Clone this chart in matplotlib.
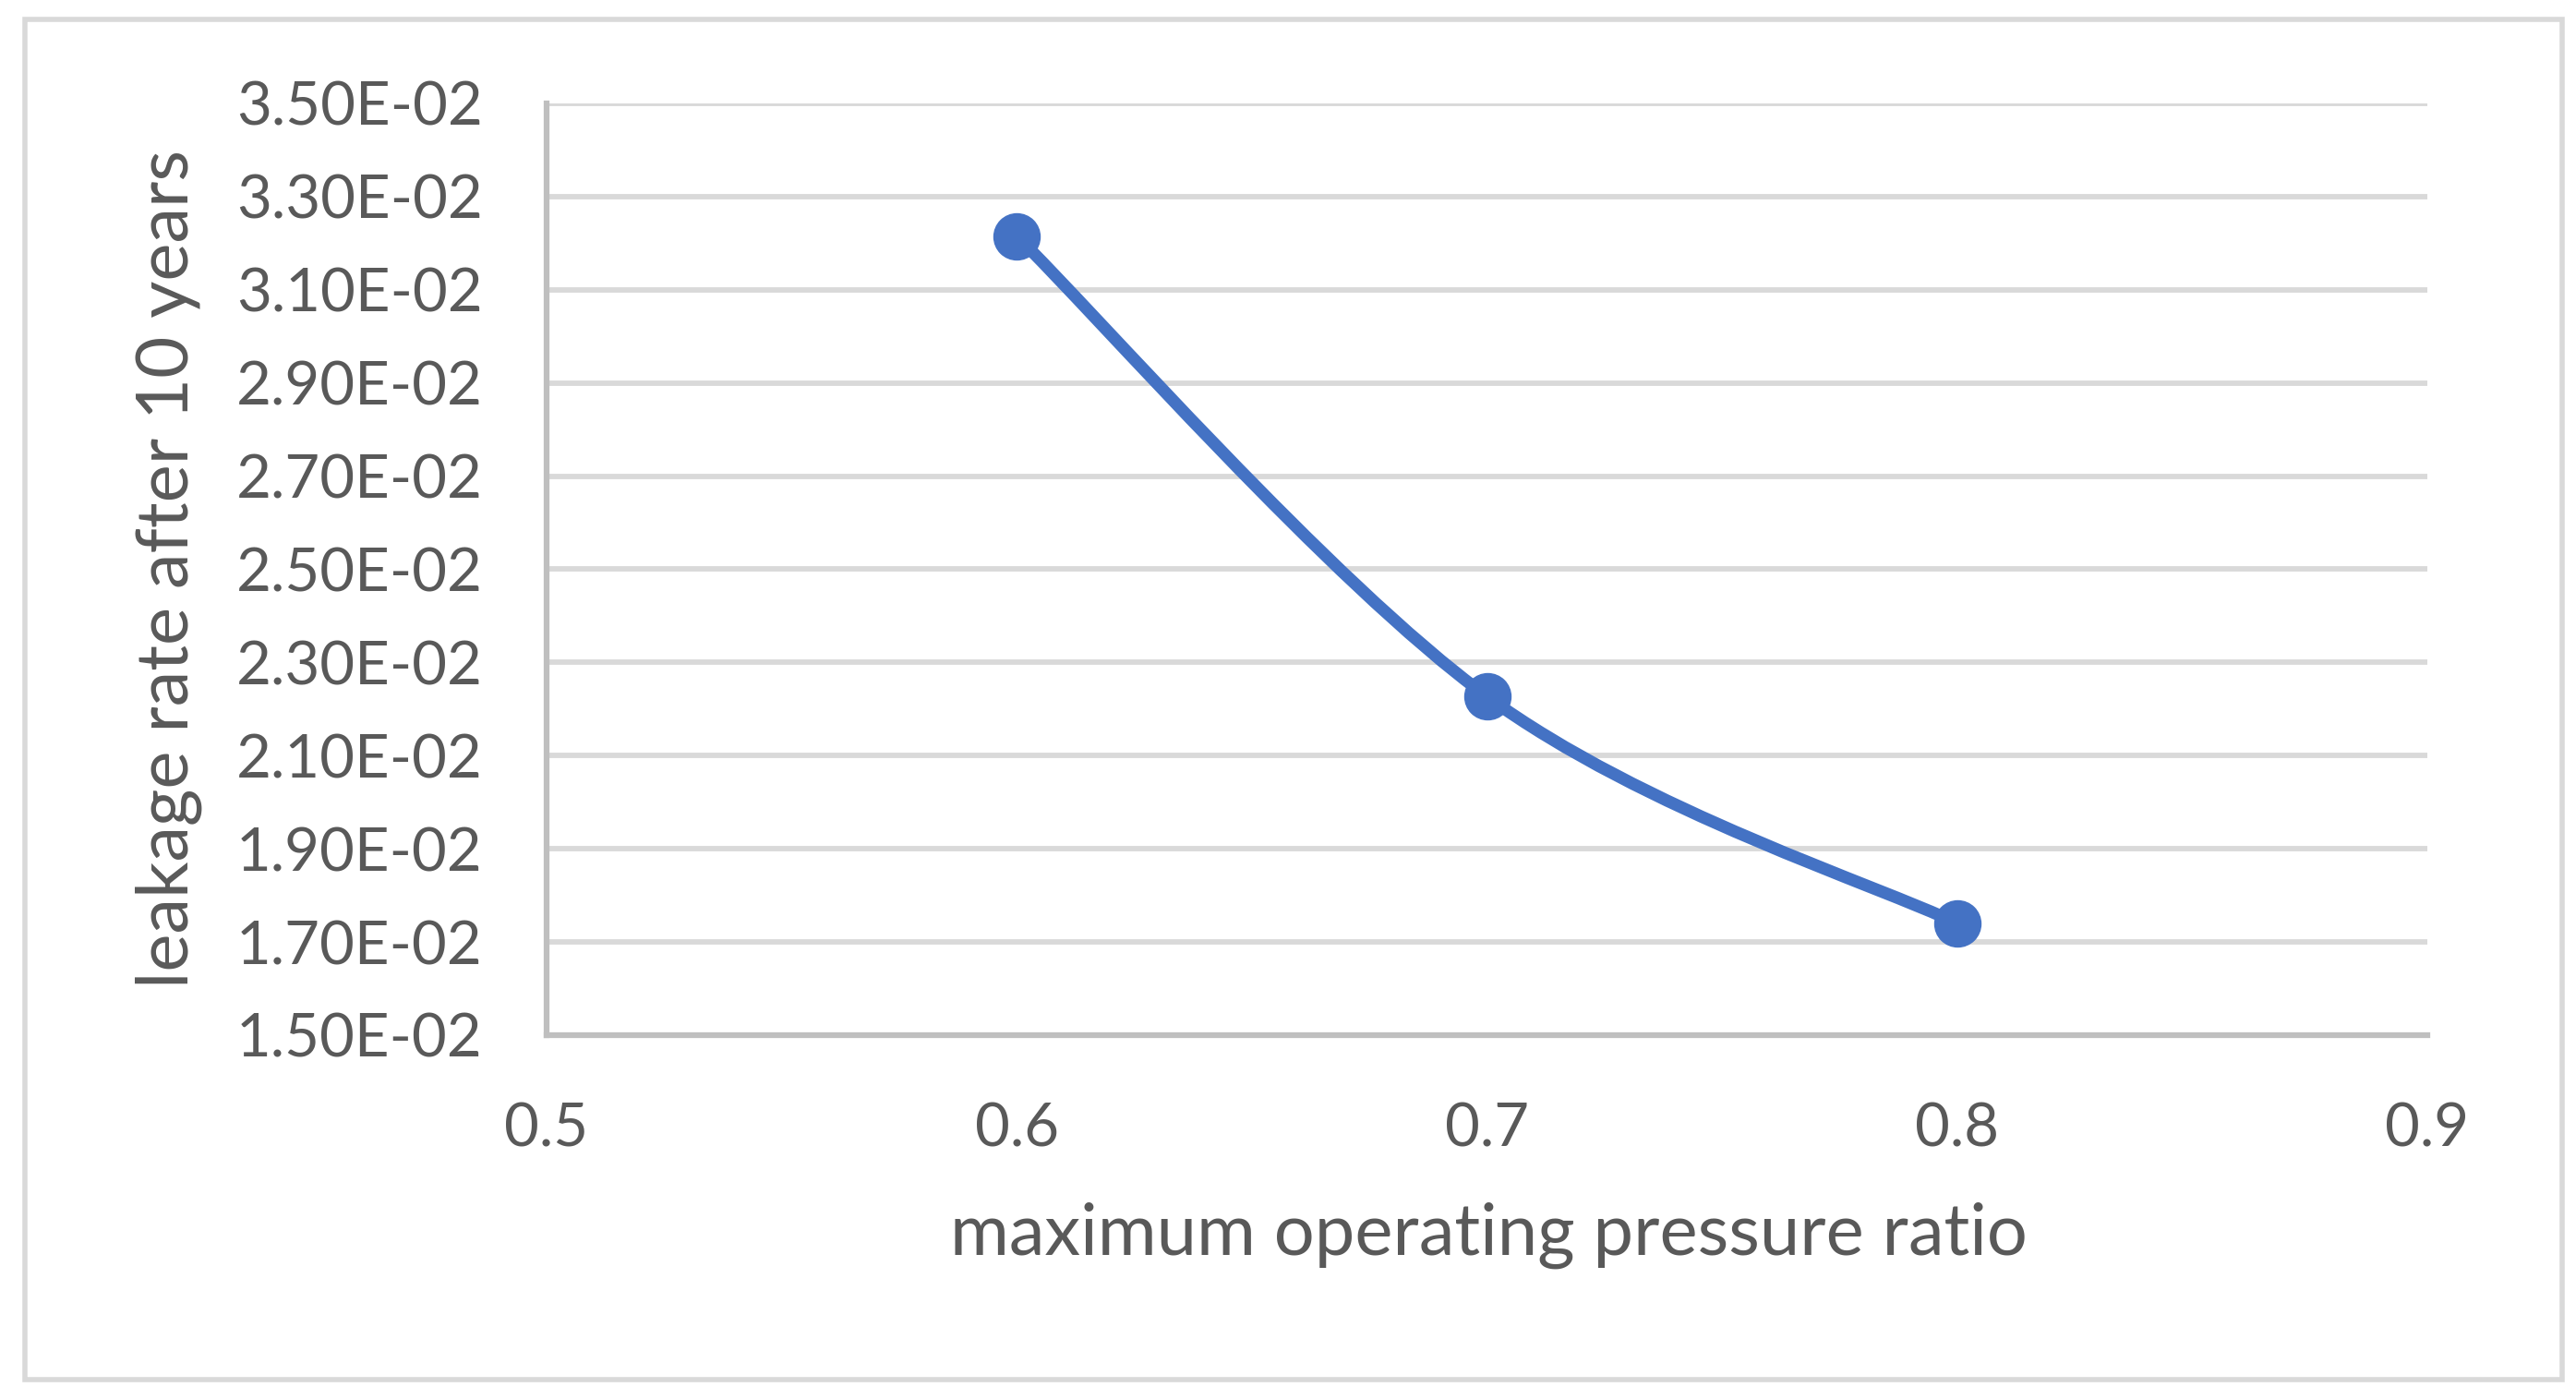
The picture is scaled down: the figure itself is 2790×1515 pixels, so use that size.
import numpy as np
import matplotlib.pyplot as plt
from matplotlib.path import Path
from matplotlib.patches import PathPatch, Rectangle
from matplotlib.ticker import FormatStrFormatter

plt.rcParams['font.family'] = ['Lato', 'DejaVu Sans']

# data
pressure_ratio = [0.6, 0.7, 0.8]
leak_rate = [3.215e-02, 2.227e-02, 1.740e-02]
x_ticks = [0.5, 0.6, 0.7, 0.8, 0.9]
y_ticks = [0.015, 0.017, 0.019, 0.021, 0.023, 0.025, 0.027, 0.029, 0.031, 0.033, 0.035]

text_col = '#595959'
grid_col = '#D9D9D9'
axis_col = '#BFBFBF'
line_col = '#4472C4'

fig = plt.figure(figsize=(27.9, 15.15), dpi=100)
# chart area border (Excel style)
fig.patches.append(Rectangle((0.0097, 0.0139), 0.985, 0.9723, transform=fig.transFigure,
                             fill=False, edgecolor=grid_col, linewidth=4, zorder=0))

ax = fig.add_axes([0.2122, 0.2601, 0.7301, 0.666])

# smoothed line (Excel-like bezier through the points)
pts = np.column_stack([pressure_ratio, leak_rate])
n = len(pts)
verts = [pts[0]]
codes = [Path.MOVETO]
for i in range(n - 1):
    p0 = pts[max(i - 1, 0)]
    p1 = pts[i]
    p2 = pts[i + 1]
    p3 = pts[min(i + 2, n - 1)]
    verts += [p1 + (p2 - p0) / 6.0, p2 - (p3 - p1) / 6.0, p2]
    codes += [Path.CURVE4] * 3
ax.add_patch(PathPatch(Path(verts, codes), facecolor='none', edgecolor=line_col,
                       linewidth=9.5, capstyle='round', joinstyle='round', zorder=3))
ax.plot(pressure_ratio, leak_rate, linestyle='', marker='o', markersize=36,
        color=line_col, zorder=4)

ax.set_xlim(0.5, 0.9)
ax.set_ylim(0.015, 0.035)
ax.set_xticks(x_ticks)
ax.set_yticks(y_ticks)
ax.xaxis.set_major_formatter(FormatStrFormatter('%.1f'))
ax.yaxis.set_major_formatter(FormatStrFormatter('%.2E'))
ax.tick_params(axis='both', length=0, labelsize=47, colors=text_col)
ax.tick_params(axis='y', pad=50)
ax.tick_params(axis='x', pad=52)

ax.grid(axis='y', color=grid_col, linewidth=4.2)
ax.set_axisbelow(True)
for s in ['top', 'right']:
    ax.spines[s].set_visible(False)
for s in ['left', 'bottom']:
    ax.spines[s].set_color(axis_col)
    ax.spines[s].set_linewidth(4.5)

fig.text(0.5778, 0.1168, 'maximum operating pressure ratio', ha='center', va='center',
         fontsize=56, color=text_col)
fig.text(0.0656, 0.5934, 'leakage rate after 10 years', ha='center', va='center',
         rotation=90, fontsize=56, color=text_col)

plt.savefig('out.png', dpi=100)
